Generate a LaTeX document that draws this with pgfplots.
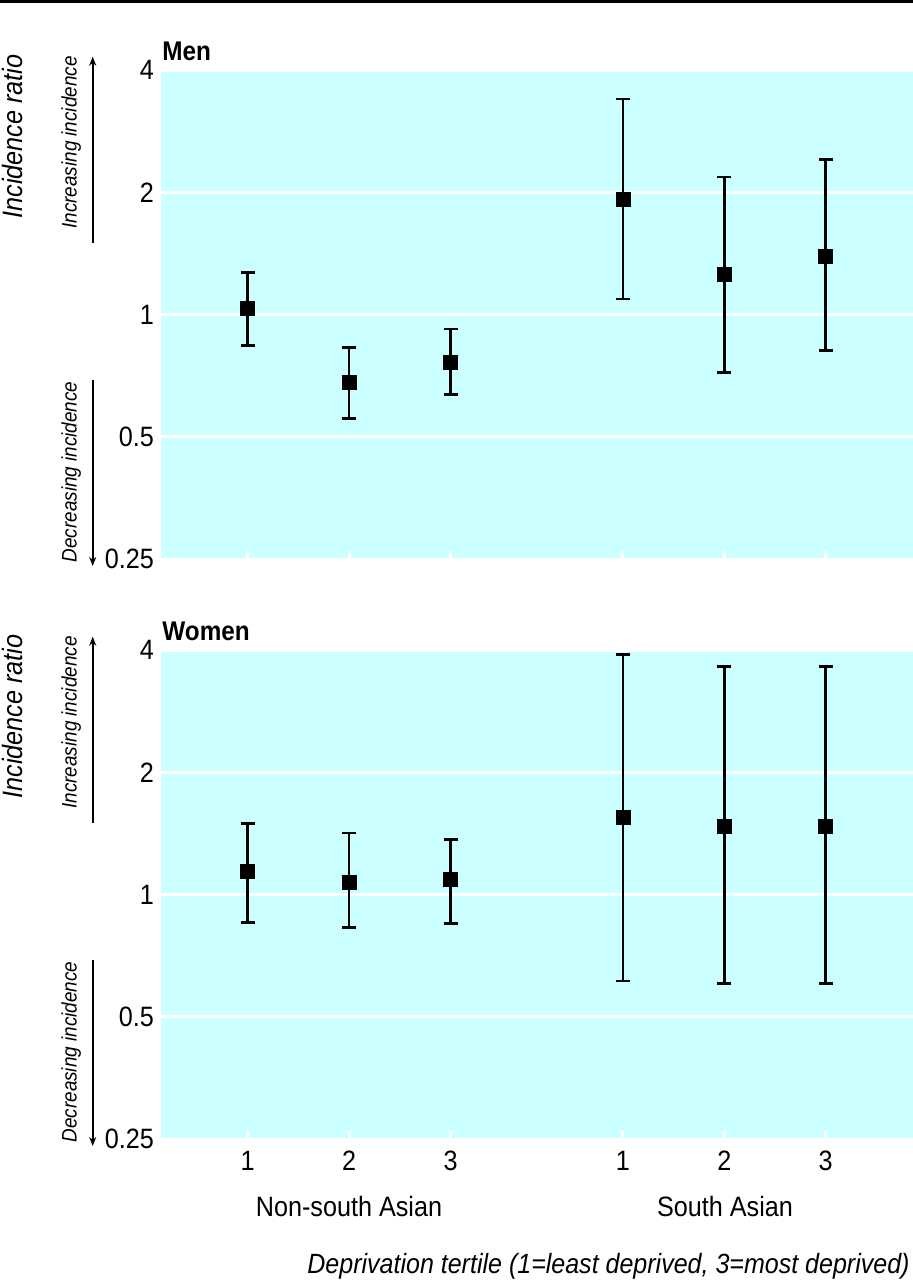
\documentclass[border=0pt]{standalone}
\usepackage{fontspec}
\setmainfont{Liberation Sans}[FakeStretch=0.9]
\usepackage{pgfplots}
\usepackage{pgfplotstable}
\pgfplotsset{compat=1.18}
\usetikzlibrary{arrows.meta}
\definecolor{bgcyan}{RGB}{204,255,255}

% x: tertile position, y: incidence ratio
\pgfplotstableread{
x y
1 1.036
2 0.681
3 0.761
4.7 1.92
5.7 1.256
6.7 1.39
}\menpts
\pgfplotstableread{
x y
1 0.839
1 1.27
nan nan
2 0.555
2 0.828
nan nan
3 0.635
3 0.922
nan nan
4.7 1.093
4.7 3.39
nan nan
5.7 0.721
5.7 2.18
nan nan
6.7 0.816
6.7 2.41
}\menci
\pgfplotstableread{
x y
1 1.138
2 1.074
3 1.09
4.7 1.546
5.7 1.469
6.7 1.47
}\wompts
\pgfplotstableread{
x y
1 0.853
1 1.495
nan nan
2 0.830
2 1.418
nan nan
3 0.849
3 1.366
nan nan
4.7 0.612
4.7 3.895
nan nan
5.7 0.603
5.7 3.64
nan nan
6.7 0.603
6.7 3.64
}\womci

\begin{document}
\begin{tikzpicture}
\useasboundingbox (0,0) rectangle (456.5pt,-640pt);
\fill[black] (0,0) rectangle (456.5pt,-1.25pt);

% Men
\begin{axis}[at={(80.5pt,-35pt)}, anchor=north west,
  scale only axis, width=376pt, height=244.5pt,
  xmin=0.145, xmax=7.561, ymode=log, log basis y=2, ymin=0.25, ymax=4,
  axis background/.style={fill=bgcyan},
  axis line style={draw=none},
  ytick={0.25,0.5,1,2,4}, yticklabels={0.25,0.5,1,2,4},
  ymajorgrids, major grid style={white, line width=1.5pt},
  ytick style={draw=none},
  xtick={1,2,3,4.7,5.7,6.7}, xticklabels={},
  xtick pos=bottom, tick align=inside,
  xtick style={white, line width=1.5pt}, major tick length=4pt,
  tick label style={font=\fontsize{14}{16}\selectfont},
  clip=false]
\addplot[black, line width=1.3pt, mark=-, mark size=3.5pt, unbounded coords=jump] table {\menci};
\addplot[only marks, black, mark=square*, mark size=3.5pt] table {\menpts};
\end{axis}

% Women
\begin{axis}[at={(80.5pt,-325pt)}, anchor=north west,
  scale only axis, width=376pt, height=244.5pt,
  xmin=0.145, xmax=7.561, ymode=log, log basis y=2, ymin=0.25, ymax=4,
  axis background/.style={fill=bgcyan},
  axis line style={draw=none},
  ytick={0.25,0.5,1,2,4}, yticklabels={0.25,0.5,1,2,4},
  ymajorgrids, major grid style={white, line width=1.5pt},
  ytick style={draw=none},
  xtick={1,2,3,4.7,5.7,6.7}, xticklabels={1,2,3,1,2,3},
  xtick pos=bottom, tick align=inside,
  xtick style={white, line width=1.5pt}, major tick length=4pt,
  tick label style={font=\fontsize{14}{16}\selectfont},
  xticklabel style={yshift=-2.5pt},
  clip=false]
\addplot[black, line width=1.3pt, mark=-, mark size=3.5pt, unbounded coords=jump] table {\womci};
\addplot[only marks, black, mark=square*, mark size=3.5pt] table {\wompts};
\end{axis}

\node[anchor=base west, inner sep=0, font=\fontsize{13.5}{15}\selectfont\bfseries] at (81pt,-30pt) {Men};
\node[anchor=base west, inner sep=0, font=\fontsize{13.5}{15}\selectfont\bfseries] at (81pt,-320pt) {Women};

\foreach \dy in {0pt,-290pt}{
  \begin{scope}[yshift=\dy]
  \node[rotate=90, anchor=base, inner sep=0, font=\fontsize{14}{16}\selectfont\itshape] at (11pt,-68.25pt) {Incidence ratio};
  \node[rotate=90, anchor=base, inner sep=0, font=\fontsize{10.5}{12}\selectfont\itshape] at (38.3pt,-71.25pt) {Increasing incidence};
  \node[rotate=90, anchor=base, inner sep=0, font=\fontsize{10.5}{12}\selectfont\itshape] at (38.3pt,-236pt) {Decreasing incidence};
  \draw[line width=1pt, -{Stealth[length=4.5pt,width=3.5pt]}] (46.35pt,-121.3pt) -- (46.35pt,-28.35pt);
  \draw[line width=1pt, -{Stealth[length=4.5pt,width=3.5pt]}] (46.35pt,-190pt) -- (46.35pt,-283pt);
  \end{scope}
}

\node[anchor=base, inner sep=0, font=\fontsize{14}{16}\selectfont] at (174.5pt,-608pt) {Non-south Asian};
\node[anchor=base, inner sep=0, font=\fontsize{14}{16}\selectfont] at (362.5pt,-608pt) {South Asian};
\node[anchor=base east, inner sep=0, font=\fontsize{13.9}{16}\selectfont\itshape] at (455pt,-636.6pt) {Deprivation tertile (1=least deprived, 3=most deprived)};
\end{tikzpicture}
\end{document}
